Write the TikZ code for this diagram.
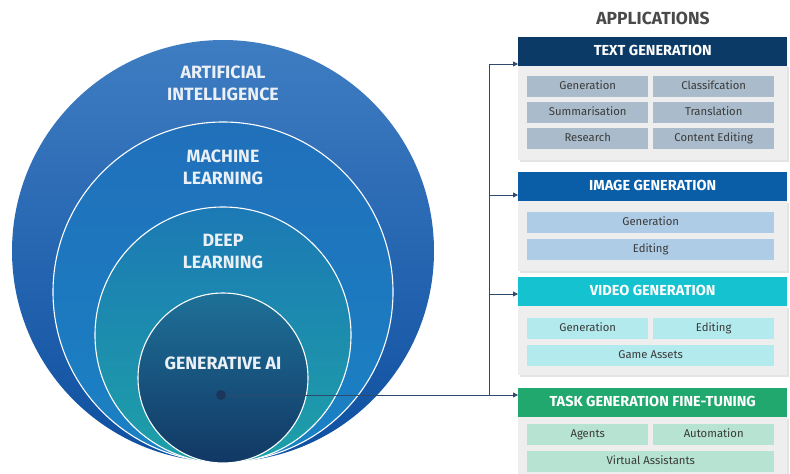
\documentclass[tikz,border=0pt]{standalone}
\usepackage{fontspec}
\setmainfont{Fira Sans}
\usetikzlibrary{arrows.meta}
\definecolor{hText}{HTML}{0B3A66}
\definecolor{hImage}{HTML}{0A5EA8}
\definecolor{hVideo}{HTML}{14C3CF}
\definecolor{hTask}{HTML}{21A86F}
\definecolor{sText}{HTML}{AABCCB}
\definecolor{sImage}{HTML}{AFCCE6}
\definecolor{sVideo}{HTML}{B3EAEE}
\definecolor{sTask}{HTML}{B6E3D2}
\definecolor{bodyGray}{HTML}{EEEEEE}
\definecolor{shadowGray}{HTML}{E4E4E4}
\definecolor{lineNavy}{HTML}{2E4A6E}
\definecolor{dotNavy}{HTML}{1A375B}
\definecolor{subText}{HTML}{3A3A3A}
\definecolor{appGray}{HTML}{4A4A4A}
\definecolor{ringText}{HTML}{EAF0F6}
\definecolor{aiTop}{HTML}{3F7DC2}
\definecolor{aiBot}{HTML}{0E4FA0}
\definecolor{mlTop}{HTML}{2070BA}
\definecolor{mlBot}{HTML}{1A82C4}
\definecolor{dlTop}{HTML}{1C79B4}
\definecolor{dlBot}{HTML}{1DA0A8}
\definecolor{gTop}{HTML}{1E7098}
\definecolor{gBot}{HTML}{113864}
\tikzset{
  headbox/.style={draw=none, inner sep=0pt, anchor=north west, minimum width=269pt, minimum height=28.5pt,
     text height=1.45ex, text depth=0pt, text=white, font=\fontsize{14.5}{16}\selectfont\bfseries},
  bodybox/.style={fill=bodyGray, draw=none, inner sep=0pt, anchor=north west, minimum width=269pt},
  subbox/.style={draw=none, inner sep=0pt, anchor=north west, minimum height=20.5pt,
     text height=1.6ex, text depth=0.3ex, text=subText, font=\fontsize{11.3}{13}\selectfont},
  halfbox/.style={subbox, minimum width=121pt},
  fullbox/.style={subbox, minimum width=247pt},
  ringlabel/.style={text=ringText, align=center, font=\fontsize{17.8}{22}\selectfont\bfseries},
  ring/.style={draw=white, line width=1.1pt},
  conn/.style={draw=lineNavy, line width=0.8pt},
  arr/.style={-{Triangle[length=5pt,width=5pt]}},
}
\begin{document}
\begin{tikzpicture}[x=1pt,y=-1pt]
\useasboundingbox (0,0) rectangle (790,474);

% circles
\path[top color=aiTop, bottom color=aiBot] (223,251) circle[radius=211];
\path[ring, top color=mlTop, bottom color=mlBot] (223,292) circle[radius=170];
\path[ring, top color=dlTop, bottom color=dlBot] (223,335) circle[radius=128];
\path[ring, top color=gTop, bottom color=gBot] (223,378) circle[radius=85];

\node[ringlabel] (ai) at (223,83) {ARTIFICIAL\\INTELLIGENCE};
\node[ringlabel] (ml) at (223,167.5) {MACHINE\\LEARNING};
\node[ringlabel] (dl) at (223,251) {DEEP\\LEARNING};
\node[ringlabel] (gai) at (223,363) {GENERATIVE AI};

% applications title
\node[text=appGray, font=\fontsize{17.5}{19}\selectfont\bfseries] (apps) at (653,18) {APPLICATIONS};

% text generation panel
\fill[shadowGray] (520,67) rectangle (789,162);
\node[bodybox, minimum height=95pt] (tbody) at (518,65) {};
\node[headbox, fill=hText] (thead) at (518,37) {TEXT GENERATION};
\node[halfbox, fill=sText] (t1) at (527,76) {Generation};
\node[halfbox, fill=sText] (t2) at (653,76) {Classifcation};
\node[halfbox, fill=sText] (t3) at (527,102) {Summarisation};
\node[halfbox, fill=sText] (t4) at (653,102) {Translation};
\node[halfbox, fill=sText] (t5) at (527,128) {Research};
\node[halfbox, fill=sText] (t6) at (653,128) {Content Editing};

% image generation panel
\fill[shadowGray] (520,203) rectangle (789,273);
\node[bodybox, minimum height=70pt] (ibody) at (518,201) {};
\node[headbox, fill=hImage] (ihead) at (518,172) {IMAGE GENERATION};
\node[fullbox, fill=sImage] (i1) at (527,212) {Generation};
\node[fullbox, fill=sImage] (i2) at (527,239) {Editing};

% video generation panel
\fill[shadowGray] (520,308) rectangle (789,377);
\node[bodybox, minimum height=69pt] (vbody) at (518,306) {};
\node[headbox, fill=hVideo] (vhead) at (518,277) {VIDEO GENERATION};
\node[halfbox, fill=sVideo] (v1) at (527,318) {Generation};
\node[halfbox, fill=sVideo] (v2) at (653,318) {Editing};
\node[fullbox, fill=sVideo] (v3) at (527,345) {Game Assets};

% task generation panel
\fill[shadowGray] (520,419) rectangle (789,476);
\node[bodybox, minimum height=58pt] (kbody) at (518,417) {};
\node[headbox, fill=hTask] (khead) at (518,388) {TASK GENERATION FINE-TUNING};
\node[halfbox, fill=sTask] (k1) at (527,424) {Agents};
\node[halfbox, fill=sTask] (k2) at (653,424) {Automation};
\node[fullbox, fill=sTask] (k3) at (527,451) {Virtual Assistants};

% connectors
\coordinate (dot) at (221,395);
\coordinate (trunk) at (489,395);
\coordinate (tin) at (518,64);
\coordinate (iin) at (518,195);
\coordinate (vin) at (518,294);
\draw[conn, arr] (dot) -- (dot -| khead.west);
\draw[conn, arr] (trunk) |- (tin);
\draw[conn, arr] (trunk) |- (iin);
\draw[conn, arr] (trunk) |- (vin);
\node[circle, fill=dotNavy, draw=none, inner sep=0pt, minimum size=10pt] (dotmark) at (dot) {};
\end{tikzpicture}
\end{document}
